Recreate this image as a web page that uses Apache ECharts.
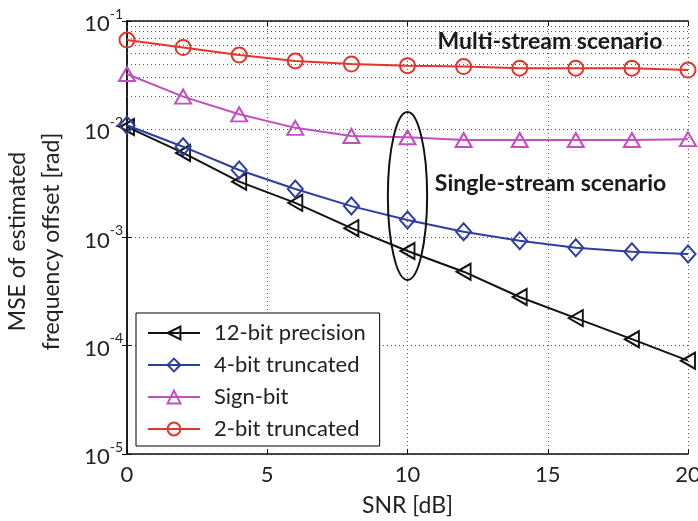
<!DOCTYPE html>
<html>
<head>
<meta charset="utf-8">
<script src="https://cdn.jsdelivr.net/npm/echarts@6/dist/echarts.min.js"></script>
<style>
  html, body { margin: 0; padding: 0; background: #fff; }
  #main { width: 698px; height: 521px; }
</style>
</head>
<body>
<div id="main"></div>
<script>
var snr = [0, 2, 4, 6, 8, 10, 12, 14, 16, 18, 20];
var prec12 = [0.0105, 0.00604, 0.00328, 0.00209, 0.00122, 0.00075, 0.000483, 0.000282, 0.00018, 0.000115, 0.0000728];
var trunc4 = [0.0109, 0.0069, 0.0042, 0.00281, 0.00195, 0.00145, 0.00113, 0.000934, 0.000805, 0.00074, 0.000705];
var signBit = [0.0324, 0.0200, 0.01374, 0.0103, 0.00867, 0.00843, 0.00796, 0.00796, 0.00796, 0.00796, 0.0081];
var trunc2 = [0.0667, 0.0568, 0.0485, 0.0427, 0.0400, 0.0387, 0.0379, 0.0366, 0.0366, 0.0366, 0.0352];
var names = ['12-bit precision', '4-bit truncated', 'Sign-bit', '2-bit truncated'];
var colors = ['#111111', '#2c3e9f', '#c04fc0', '#e5352b'];

// minor grid lines of the log axis (2..9 x each decade)
var minorLevels = [];
[1e-5, 1e-4, 1e-3, 1e-2].forEach(function (d) {
    for (var k = 2; k <= 9; k++) minorLevels.push({yAxis: k * d});
});

var font = 'Lato, "Open Sans", sans-serif';
var dotted = {color: '#555', width: 1, type: [1, 3]};

function pairs(ys) {
    return snr.map(function (x, i) { return [x, ys[i]]; });
}

function mkSeries(i, data, symbol, size) {
    return {
        name: names[i],
        type: 'line',
        data: pairs(data),
        symbol: symbol,
        symbolSize: size,
        lineStyle: {color: colors[i], width: 2},
        itemStyle: {color: 'rgba(0,0,0,0)', borderColor: colors[i], borderWidth: 2},
        z: 5 + i
    };
}

var myChart = echarts.init(document.getElementById('main'));
var series = [
    mkSeries(0, prec12, 'path://M0,8 L14,0 L14,16 Z', [14, 16]),
    mkSeries(1, trunc4, 'diamond', [15, 17]),
    mkSeries(2, signBit, 'triangle', [16, 14]),
    mkSeries(3, trunc2, 'circle', 15)
];
series[0].markLine = {
    silent: true,
    symbol: 'none',
    label: {show: false},
    lineStyle: dotted,
    data: minorLevels
};

option = {
    animation: false,
    grid: {left: 127, right: 10, top: 21, bottom: 67, outerBoundsMode: 'none', containLabel: false},
    legend: {
        orient: 'vertical',
        left: 136,
        top: 313,
        backgroundColor: '#fff',
        borderColor: '#000',
        borderWidth: 1,
        borderRadius: 0,
        padding: [9, 14, 6, 11],
        itemWidth: 52,
        itemHeight: 16,
        itemGap: 10,
        textStyle: {fontFamily: font, fontSize: 22, color: '#222', padding: [0, 0, 0, 9]},
        data: names
    },
    xAxis: [{
        type: 'value',
        min: 0, max: 20, interval: 5,
        name: 'SNR [dB]',
        nameLocation: 'middle',
        nameGap: 40,
        nameTextStyle: {fontFamily: font, fontSize: 23, color: '#222'},
        axisLine: {lineStyle: {color: '#111', width: 1.5}},
        axisTick: {inside: true, length: 5, lineStyle: {color: '#111'}},
        axisLabel: {fontFamily: font, fontSize: 22, color: '#222', margin: 10},
        splitLine: {show: true, lineStyle: dotted}
    }, {
        type: 'value',
        position: 'top',
        min: 0, max: 20, interval: 5,
        axisLine: {show: true, lineStyle: {color: '#111', width: 1.5}},
        axisTick: {inside: true, length: 5, lineStyle: {color: '#111'}},
        axisLabel: {show: false},
        splitLine: {show: false}
    }],
    yAxis: [{
        type: 'log',
        logBase: 10,
        min: 1e-5, max: 1e-1,
        name: 'MSE of estimated\nfrequency offset [rad]',
        nameLocation: 'middle',
        nameGap: 58,
        nameTextStyle: {fontFamily: font, fontSize: 23, color: '#222', lineHeight: 34, padding: [0, 8, 0, 0]},
        axisLine: {show: true, lineStyle: {color: '#111', width: 1.5}},
        axisTick: {inside: true, length: 5, lineStyle: {color: '#111'}},
        axisLabel: {
            margin: 4,
            formatter: function (v) {
                var e = Math.round(Math.log10(v));
                return '{b|10}{s|' + e + '}';
            },
            rich: {
                b: {fontFamily: font, fontSize: 22, color: '#222', padding: [6, 0, 0, 0]},
                s: {fontFamily: font, fontSize: 14, color: '#222', verticalAlign: 'top', padding: [0, 0, 10, 0]}
            }
        },
        splitLine: {show: true, lineStyle: dotted}
    }, {
        type: 'log',
        logBase: 10,
        position: 'right',
        min: 1e-5, max: 1e-1,
        axisLine: {show: true, lineStyle: {color: '#111', width: 1.5}},
        axisTick: {inside: true, length: 5, lineStyle: {color: '#111'}},
        axisLabel: {show: false},
        splitLine: {show: false}
    }],
    series: series
};

if (option && typeof option === 'object') {
    myChart.setOption(option, true);
}

// annotations anchored on data coordinates
var c1 = myChart.convertToPixel({gridIndex: 0}, [15.08, 0.064]);
var c2 = myChart.convertToPixel({gridIndex: 0}, [15.1, 0.00318]);
var eTop = myChart.convertToPixel({gridIndex: 0}, [9.3, 0.01442]);
var eBot = myChart.convertToPixel({gridIndex: 0}, [10.7, 0.000405]);
var noteStyle = {fontFamily: font, fontSize: 23, fontWeight: 'bold', fill: '#1a1a1a', align: 'center', verticalAlign: 'middle'};
myChart.setOption({
    graphic: [
        {type: 'text', x: c1[0], y: c1[1], z: 20, style: Object.assign({text: 'Multi-stream scenario'}, noteStyle)},
        {type: 'text', x: c2[0], y: c2[1], z: 20, style: Object.assign({text: 'Single-stream scenario'}, noteStyle)},
        {
            type: 'ellipse', z: 20,
            shape: {
                cx: (eTop[0] + eBot[0]) / 2,
                cy: (eTop[1] + eBot[1]) / 2,
                rx: (eBot[0] - eTop[0]) / 2,
                ry: (eBot[1] - eTop[1]) / 2
            },
            style: {fill: 'none', stroke: '#111', lineWidth: 2}
        }
    ]
});
</script>
</body>
</html>
